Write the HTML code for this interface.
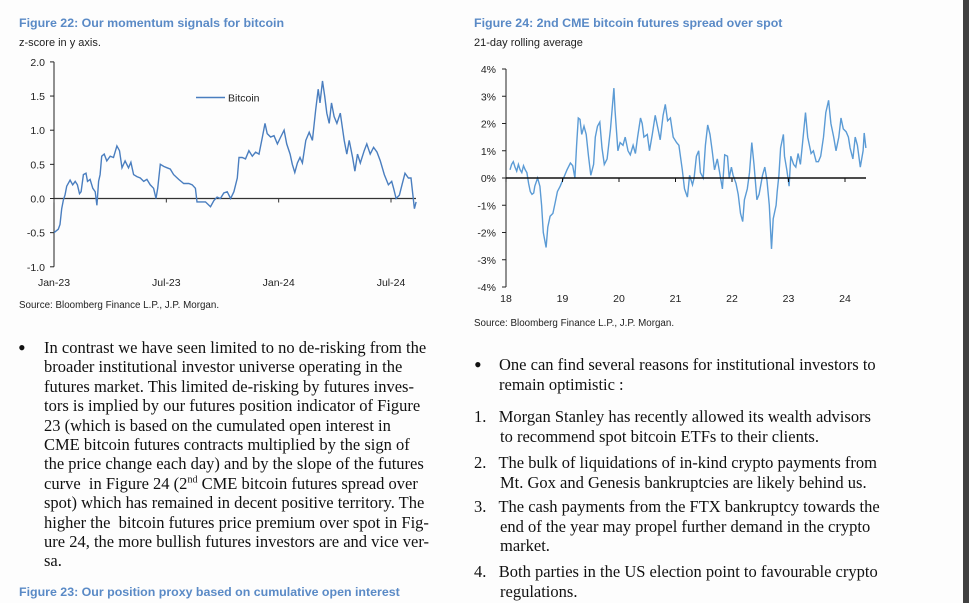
<!DOCTYPE html>
<html><head><meta charset="utf-8">
<style>
body{margin:0;width:969px;height:603px;background:#fdfdfd;position:relative;overflow:hidden;font-family:"Liberation Sans",sans-serif}
.t{position:absolute;white-space:nowrap}
.fig{color:#5a8ac6;font-weight:bold;font-size:12.4px}
.sub{font-size:11px;color:#222}
.src{font-size:9.8px;color:#222}
.body{font-family:"Liberation Serif",serif;font-size:16.5px;color:#111;line-height:20px}
.bul{font-size:22px}
svg{position:absolute;left:0;top:0}
svg text{font-family:"Liberation Sans",sans-serif;font-size:10.5px;fill:#222}
</style></head><body>
<div style="position:absolute;left:963px;top:0;width:6px;height:603px;background:#404040"></div>

<div class="t fig" style="left:19px;top:16px">Figure 22: Our momentum signals for bitcoin</div>
<div class="t sub" style="left:19px;top:37px">z-score in y axis.</div>
<div class="t src" style="left:19px;top:300px">Source: Bloomberg Finance L.P., J.P. Morgan.</div>

<div class="t fig" style="left:474px;top:16px">Figure 24: 2nd CME bitcoin futures spread over spot</div>
<div class="t sub" style="left:474px;top:37px">21-day rolling average</div>
<div class="t src" style="left:474px;top:318px">Source: Bloomberg Finance L.P., J.P. Morgan.</div>

<svg id="chart" width="969" height="603"></svg>

<div class="t body bul" style="left:18px;top:338px">•</div>
<div class="t body" style="left:44px;top:338px;line-height:19.4px">In contrast we have seen limited to no de-risking from the<br>broader institutional investor universe operating in the<br>futures market. This limited de-risking by futures inves-<br>tors is implied by our futures position indicator of Figure<br>23 (which is based on the cumulated open interest in<br>CME bitcoin futures contracts multiplied by the sign of<br>the price change each day) and by the slope of the futures<br>curve&nbsp; in Figure 24 (2<sup style="font-size:10px;line-height:0">nd</sup> CME bitcoin futures spread over<br>spot) which has remained in decent positive territory. The<br>higher the&nbsp; bitcoin futures price premium over spot in Fig-<br>ure 24, the more bullish futures investors are and vice ver-<br>sa.</div>
<div class="t fig" style="left:19px;top:585px">Figure 23: Our position proxy based on cumulative open interest</div>

<div class="t body bul" style="left:474px;top:355px">•</div>
<div class="t body" style="left:499px;top:355px;line-height:19.5px">One can find several reasons for institutional investors to<br>remain optimistic :</div>
<div class="t body" style="left:474px;top:407px;line-height:19.5px">1.&nbsp;&nbsp; Morgan Stanley has recently allowed its wealth advisors<br><span style="padding-left:26px">to recommend spot bitcoin ETFs to their clients.</span></div>
<div class="t body" style="left:474px;top:453px;line-height:19.5px">2.&nbsp;&nbsp; The bulk of liquidations of in-kind crypto payments from<br><span style="padding-left:26px">Mt. Gox and Genesis bankruptcies are likely behind us.</span></div>
<div class="t body" style="left:474px;top:497px;line-height:19.5px">3.&nbsp;&nbsp; The cash payments from the FTX bankruptcy towards the<br><span style="padding-left:26px">end of the year may propel further demand in the crypto</span><br><span style="padding-left:26px">market.</span></div>
<div class="t body" style="left:474px;top:562px;line-height:19.5px">4.&nbsp;&nbsp; Both parties in the US election point to favourable crypto<br><span style="padding-left:26px">regulations.</span></div>

<script>
// Chart 1: months since Jan-23, z-score
const c1Months=[0,0.23,0.32,0.41,0.5,0.59,0.68,0.86,1.0,1.13,1.25,1.36,1.45,1.57,1.71,1.79,1.93,2.07,2.2,2.29,2.38,2.46,2.55,2.68,2.82,3.0,3.18,3.36,3.5,3.63,3.8,3.98,4.11,4.25,4.43,4.61,4.79,4.96,5.14,5.32,5.45,5.54,5.68,5.86,6.04,6.21,6.39,6.66,6.93,7.2,7.38,7.55,7.64,7.82,8.09,8.36,8.54,8.71,8.89,9.07,9.25,9.43,9.61,9.79,9.88,10.05,10.23,10.41,10.59,10.77,10.95,11.13,11.27,11.39,11.57,11.75,11.93,12.11,12.29,12.43,12.61,12.73,12.86,13.0,13.14,13.27,13.45,13.63,13.8,13.98,14.11,14.21,14.34,14.46,14.57,14.7,14.82,14.96,15.11,15.29,15.5,15.64,15.77,15.95,16.07,16.21,16.36,16.57,16.71,16.89,17.07,17.25,17.43,17.64,17.86,18.04,18.14,18.27,18.45,18.59,18.75,18.93,19.07,19.25,19.34];
const c1Values=[-0.5,-0.45,-0.38,-0.15,-0.02,0.05,0.18,0.27,0.2,0.25,0.2,0.07,0.1,0.35,0.37,0.25,0.28,0.15,0.1,-0.1,0.25,0.35,0.62,0.65,0.55,0.62,0.6,0.77,0.7,0.45,0.55,0.45,0.53,0.35,0.32,0.3,0.25,0.28,0.2,0.15,0.0,0.15,0.5,0.47,0.45,0.43,0.35,0.28,0.22,0.22,0.2,0.15,-0.05,-0.05,-0.05,-0.12,-0.03,0.02,0.0,0.08,0.1,0.0,0.1,0.3,0.6,0.6,0.58,0.7,0.62,0.68,0.65,0.9,1.1,0.95,0.9,0.92,0.8,0.9,1.0,0.8,0.65,0.5,0.38,0.52,0.6,0.52,0.85,0.97,0.85,1.3,1.6,1.4,1.72,1.5,1.25,1.1,1.4,1.2,1.1,1.25,0.85,0.65,0.85,0.6,0.4,0.65,0.52,0.7,0.8,0.65,0.75,0.68,0.55,0.35,0.2,0.25,0.15,0.0,0.05,0.2,0.37,0.3,0.3,-0.15,-0.05];
const c1YTicks=[2.0,1.5,1.0,0.5,0.0,-0.5,-1.0];
const c1YLabels=["2.0","1.5","1.0","0.5","0.0","-0.5","-1.0"];
const c1XTicks=[0,6,12,18];
const c1XLabels=["Jan-23","Jul-23","Jan-24","Jul-24"];
// Chart 2: years since 2018, spread %
const c2Years=[0.07,0.10,0.13,0.16,0.19,0.22,0.25,0.28,0.31,0.34,0.37,0.40,0.43,0.46,0.49,0.51,0.56,0.60,0.63,0.66,0.71,0.74,0.78,0.83,0.87,0.91,0.96,1.02,1.08,1.14,1.18,1.22,1.25,1.28,1.31,1.34,1.38,1.42,1.46,1.50,1.55,1.58,1.62,1.66,1.70,1.74,1.79,1.85,1.91,1.93,1.98,2.02,2.07,2.11,2.16,2.20,2.25,2.29,2.33,2.38,2.41,2.44,2.50,2.54,2.59,2.64,2.69,2.73,2.78,2.82,2.86,2.91,2.96,3.02,3.06,3.12,3.16,3.21,3.25,3.30,3.33,3.37,3.41,3.44,3.49,3.53,3.57,3.61,3.65,3.69,3.74,3.79,3.83,3.87,3.92,3.95,3.99,4.02,4.07,4.11,4.15,4.19,4.22,4.27,4.31,4.35,4.39,4.44,4.48,4.54,4.58,4.62,4.66,4.70,4.73,4.78,4.80,4.83,4.86,4.91,4.93,4.97,5.01,5.04,5.09,5.13,5.17,5.21,5.25,5.30,5.34,5.40,5.44,5.49,5.53,5.57,5.62,5.66,5.71,5.75,5.80,5.84,5.89,5.93,5.97,6.02,6.06,6.09,6.14,6.18,6.22,6.27,6.32,6.34,6.37];
const c2Values=[0.3,0.5,0.6,0.4,0.25,0.5,0.3,0.2,0.45,0.3,0.2,-0.2,-0.5,-0.6,-0.55,-0.3,0.0,-0.3,-1.0,-2.0,-2.55,-1.8,-1.4,-1.3,-0.9,-0.5,-0.3,0.0,0.3,0.55,0.45,0.0,1.2,2.2,2.15,1.6,1.9,1.6,0.8,0.1,0.5,1.5,1.9,2.05,1.1,0.5,0.7,1.8,3.3,2.5,1.0,1.3,1.2,1.5,1.0,0.85,1.2,0.9,1.5,2.2,2.0,1.5,1.6,1.0,1.6,2.3,1.8,1.4,2.3,2.7,2.1,2.2,1.5,1.3,1.2,0.3,-0.4,-0.7,0.1,-0.25,0.0,0.8,1.0,0.2,0.0,1.2,1.95,1.6,1.0,0.3,0.7,0.1,-0.4,0.85,0.8,0.0,0.4,0.1,-0.2,-0.6,-1.3,-1.6,-0.8,-0.4,0.2,1.3,0.5,-0.8,-0.6,0.1,0.4,-0.1,-1.0,-2.6,-1.5,-1.0,-0.5,0.1,1.1,1.6,0.8,0.3,-0.3,0.8,0.5,0.4,0.9,0.5,1.3,2.4,1.5,0.9,1.0,0.6,0.6,0.8,1.5,2.4,2.85,2.0,1.5,1.0,1.5,2.2,1.8,1.7,1.5,1.1,0.7,1.5,1.2,0.4,1.0,1.65,1.1];
const c2YTicks=[4,3,2,1,0,-1,-2,-3,-4];
const c2YLabels=["4%","3%","2%","1%","0%","-1%","-2%","-3%","-4%"];
const c2XTicks=[0,1,2,3,4,5,6];
const c2XLabels=["18","19","20","21","22","23","24"];

const svg=document.getElementById('chart');
const NS='http://www.w3.org/2000/svg';
function mk(tag,attrs){const e=document.createElementNS(NS,tag);for(const k in attrs)e.setAttribute(k,attrs[k]);svg.appendChild(e);return e;}

const x1=m=>54+m*(391-54)/18;
const y1=v=>198.5-v*68.3;
let e;
e=mk('line',{x1:54,y1:y1(2),x2:54,y2:y1(-1),stroke:'#222','stroke-width':1});


c1YTicks.forEach((v,i)=>{
  e=mk('line',{x1:50,y1:y1(v),x2:54,y2:y1(v),stroke:'#222'});
  
  
  e=mk('text',{x:45,y:y1(v)+4,'text-anchor':'end'});e.textContent=c1YLabels[i];
  
  
});
e=mk('line',{x1:54,y1:y1(0),x2:416,y2:y1(0),stroke:'#333','stroke-width':1.3});


c1XTicks.forEach((m,i)=>{
  e=mk('line',{x1:x1(m),y1:y1(0),x2:x1(m),y2:y1(0)+4,stroke:'#333'});
  
  
  e=mk('text',{x:x1(m),y:286,'text-anchor':'middle'});e.textContent=c1XLabels[i];
  
  
});
e=mk('polyline',{points:c1Months.map((m,i)=>x1(m).toFixed(1)+','+y1(c1Values[i]).toFixed(1)).join(' '),fill:'none',stroke:'#4a7ebf','stroke-width':1.4});


e=mk('line',{x1:196,y1:97.5,x2:225,y2:97.5,stroke:'#4a7ebf','stroke-width':1.5});


e=mk('text',{x:228,y:101.5});e.textContent='Bitcoin';



const x2=t=>506+t*(845-506)/6;
const y2=v=>178-v*27.25;
e=mk('line',{x1:506,y1:y2(4),x2:506,y2:y2(-4),stroke:'#222'});


c2YTicks.forEach((v,i)=>{
  e=mk('line',{x1:502,y1:y2(v),x2:506,y2:y2(v),stroke:'#222'});
  
  
  e=mk('text',{x:496,y:y2(v)+4,'text-anchor':'end'});e.textContent=c2YLabels[i];
  
  
});
e=mk('polyline',{points:c2Years.map((t,i)=>x2(t).toFixed(1)+','+y2(c2Values[i]).toFixed(1)).join(' '),fill:'none',stroke:'#5b9bd5','stroke-width':1.4});


e=mk('line',{x1:506,y1:y2(0),x2:866,y2:y2(0),stroke:'#111','stroke-width':1.6});


c2XTicks.forEach((t,i)=>{
  e=mk('line',{x1:x2(t),y1:y2(0),x2:x2(t),y2:y2(0)+4,stroke:'#111'});
  
  
  e=mk('text',{x:x2(t),y:302,'text-anchor':'middle'});e.textContent=c2XLabels[i];
  
  
});
</script>
</body></html>
